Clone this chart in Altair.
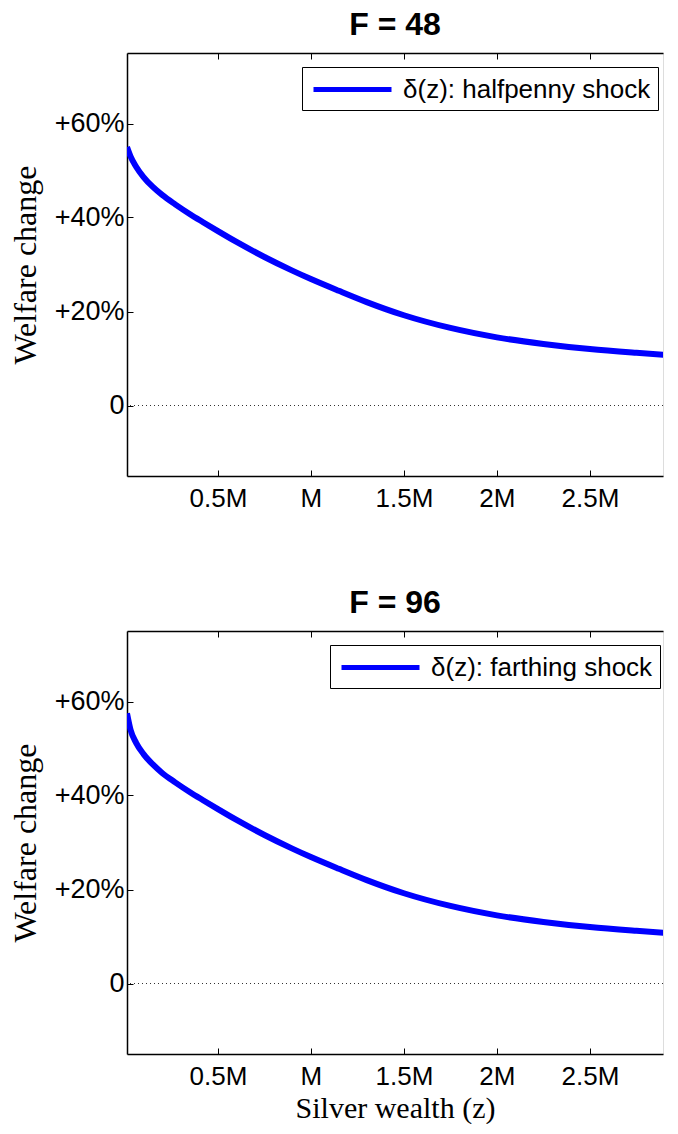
import altair as alt
import pandas as pd

# ---- data ----
z_48 = [0.011, 0.03, 0.06, 0.1, 0.15, 0.2, 0.27, 0.35, 0.42, 0.5, 0.6, 0.75, 0.9, 1.0,
        1.15, 1.3, 1.5, 1.75, 2.0, 2.25, 2.5, 2.75, 2.97]
d_48 = [0.550, 0.530, 0.508, 0.486, 0.465, 0.448, 0.428, 0.407, 0.390, 0.371, 0.348, 0.316,
        0.287, 0.269, 0.244, 0.220, 0.192, 0.165, 0.145, 0.131, 0.120, 0.112, 0.106]

z_96 = [0.011, 0.03, 0.06, 0.1, 0.15, 0.2, 0.27, 0.35, 0.42, 0.5, 0.6, 0.75, 0.9, 1.0,
        1.15, 1.3, 1.5, 1.75, 2.0, 2.25, 2.5, 2.75, 2.97]
d_96 = [0.575, 0.540, 0.512, 0.488, 0.466, 0.448, 0.428, 0.407, 0.390, 0.371, 0.348, 0.316,
        0.287, 0.269, 0.244, 0.220, 0.192, 0.165, 0.145, 0.131, 0.120, 0.112, 0.106]

x_ticks = [0.5, 1.0, 1.5, 2.0, 2.5]
y_ticks = [0.0, 0.2, 0.4, 0.6]
panel_titles = ["F = 48", "F = 96"]
series_names = ["δ(z): halfpenny shock", "δ(z): farthing shock"]
legend_x = [175, 203]

X_DOMAIN = [0.011, 2.893]
Y_DOMAIN = [-0.15, 0.75]
W, H = 536, 423
SANS = "Liberation Sans"
SERIF = "Liberation Serif"
INWARD = alt.ExprRef(expr="-6")


def panel(z, d, title, name, lx, show_xtitle):
    df = pd.DataFrame({"z": z, "d": d, "s": name})
    xs = alt.Scale(domain=X_DOMAIN, nice=False, zero=False)
    ys = alt.Scale(domain=Y_DOMAIN, nice=False, zero=False)

    line = alt.Chart(df).mark_line(strokeWidth=6, interpolate="monotone", clip=True).encode(
        x=alt.X("z:Q", scale=xs,
                title="Silver wealth (z)" if show_xtitle else None,
                axis=alt.Axis(values=x_ticks, orient="bottom",
                              labelExpr="datum.value == 1 ? 'M' : datum.value + 'M'",
                              labelFont=SANS, labelFontSize=26, labelColor="black",
                              labelPadding=15, tickSize=INWARD, tickColor="black",
                              tickWidth=1, domainColor="black", domainWidth=1.5,
                              grid=False, titleFont=SERIF, titleFontSize=30,
                              titleFontWeight="normal", titleColor="black",
                              titlePadding=4)),
        y=alt.Y("d:Q", scale=ys, title="Welfare change",
                axis=alt.Axis(values=y_ticks, orient="left",
                              labelExpr="datum.value == 0 ? '0' : '+' + format(datum.value * 100, 'd') + '%'",
                              labelFont=SANS, labelFontSize=27, labelColor="black",
                              labelPadding=9, tickSize=INWARD, tickColor="black",
                              tickWidth=1, domainColor="black", domainWidth=1.5,
                              grid=False, titleFont=SERIF, titleFontSize=32,
                              titleFontWeight="normal", titleColor="black",
                              titlePadding=12)),
        color=alt.Color("s:N", scale=alt.Scale(domain=[name], range=["#0000ff"]),
                        legend=alt.Legend(title=None, orient="none", legendX=lx, legendY=14,
                                          strokeColor="black", fillColor="white",
                                          padding=7, symbolType="M-3,0H3", symbolSize=676,
                                          symbolStrokeWidth=5, symbolOffset=28,
                                          labelFont=SANS, labelFontSize=26,
                                          labelColor="black", labelOffset=35,
                                          labelLimit=500)),
    )

    zero = alt.Chart(df).mark_rule(color="#333333", strokeWidth=1, strokeDash=[1, 3], clip=True).encode(
        y=alt.Y(datum=0, scale=ys, axis=None)
    )

    top_axis = alt.Chart(df).mark_line(opacity=0, clip=True).encode(
        x=alt.X("z:Q", scale=xs, title=None,
                axis=alt.Axis(values=x_ticks, orient="top", labels=False,
                              tickSize=INWARD, tickColor="black", tickWidth=1,
                              domainColor="black", domainWidth=1.5, grid=False)),
        y=alt.Y("d:Q", scale=ys, axis=None),
    )

    return alt.layer(zero, line, top_axis).resolve_axis(x="independent", y="independent").properties(
        width=W, height=H,
        title=alt.TitleParams(title, font=SANS, fontSize=32, fontWeight="bold",
                              color="black", anchor="middle", offset=6.2, dy=-4.6),
    )


top = panel(z_48, d_48, panel_titles[0], series_names[0], legend_x[0], False)
bottom = panel(z_96, d_96, panel_titles[1], series_names[1], legend_x[1], True)

chart = alt.vconcat(top, bottom, spacing=74).properties(
    padding={"left": 0, "top": 0, "right": 0, "bottom": 0}
).resolve_scale(color="independent").configure_view(stroke=None).configure(background="white")

chart.save("out.html", embed_options={"renderer": "svg", "actions": False})
